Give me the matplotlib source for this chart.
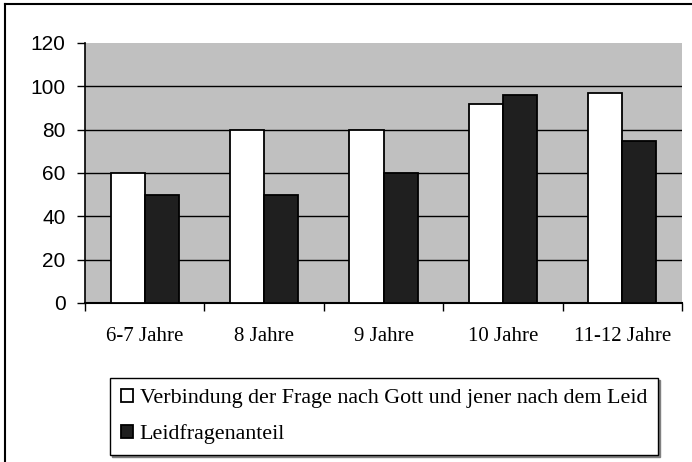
import numpy as np
import matplotlib.pyplot as plt
from matplotlib.lines import Line2D

categories = ['6-7 Jahre', '8 Jahre', '9 Jahre', '10 Jahre', '11-12 Jahre']
verbindung = [60, 80, 80, 92, 97]
leidfragen = [50, 50, 60, 96, 75]
labels = ['Verbindung der Frage nach Gott und jener nach dem Leid',
          'Leidfragenanteil']

serif = 'Liberation Serif'
sans = 'Liberation Sans'

fig = plt.figure(figsize=(6.92, 4.62), dpi=100)
ax = fig.add_axes([85 / 692, 1 - 303 / 462, 597 / 692, 260 / 462])
ax.set_facecolor('#c0c0c0')

x = np.arange(len(categories))
w = 0.285
ax.bar(x - w / 2, verbindung, w, color='white', edgecolor='black', linewidth=1.3,
       label=labels[0], zorder=3)
ax.bar(x + w / 2, leidfragen, w, color='#1f1f1f', edgecolor='black', linewidth=1.3,
       label=labels[1], zorder=3)

ax.set_xlim(-0.5, len(categories) - 0.5)
ax.set_ylim(0, 120)
ax.set_yticks(range(0, 121, 20))
ax.set_yticklabels([str(v) for v in range(0, 121, 20)], fontfamily=sans, fontsize=15)
for v in range(20, 101, 20):
    ax.axhline(v, color='black', linewidth=1.0, zorder=1)

# category boundaries as ticks, labels at centers
ax.set_xticks(np.arange(-0.5, len(categories)), minor=False)
ax.set_xticklabels([])
ax.set_xticks(x, minor=True)
ax.set_xticklabels(categories, minor=True, fontfamily=serif, fontsize=15)
ax.tick_params(axis='x', which='major', length=6, width=1, direction='out')
ax.tick_params(axis='x', which='minor', length=0, pad=17)
ax.tick_params(axis='y', length=6, width=1, direction='out', pad=8)

for s in ['top', 'right']:
    ax.spines[s].set_visible(False)
ax.spines['left'].set_linewidth(1.2)
ax.spines['bottom'].set_linewidth(1.5)

leg = fig.legend(loc='lower left', bbox_to_anchor=(110 / 692, 1 - 455 / 462),
                 prop={'family': serif, 'size': 15.8}, fancybox=False,
                 shadow={'ox': 1.5, 'oy': -1.5, 'facecolor': '0.5', 'edgecolor': '0.5', 'alpha': 1},
                 edgecolor='black', framealpha=1, handlelength=0.55, handleheight=0.55,
                 handletextpad=0.3, labelspacing=0.72, borderpad=0.5, borderaxespad=0)
leg.get_frame().set_linewidth(1.0)

# outer frame (cropped on the right and bottom)
fig.add_artist(Line2D([5 / 692, 5 / 692], [0, 1 - 4 / 462], color='black', linewidth=1.5))
fig.add_artist(Line2D([5 / 692, 1], [1 - 4 / 462, 1 - 4 / 462], color='black', linewidth=1.5))

fig.savefig('out.png', dpi=100)
